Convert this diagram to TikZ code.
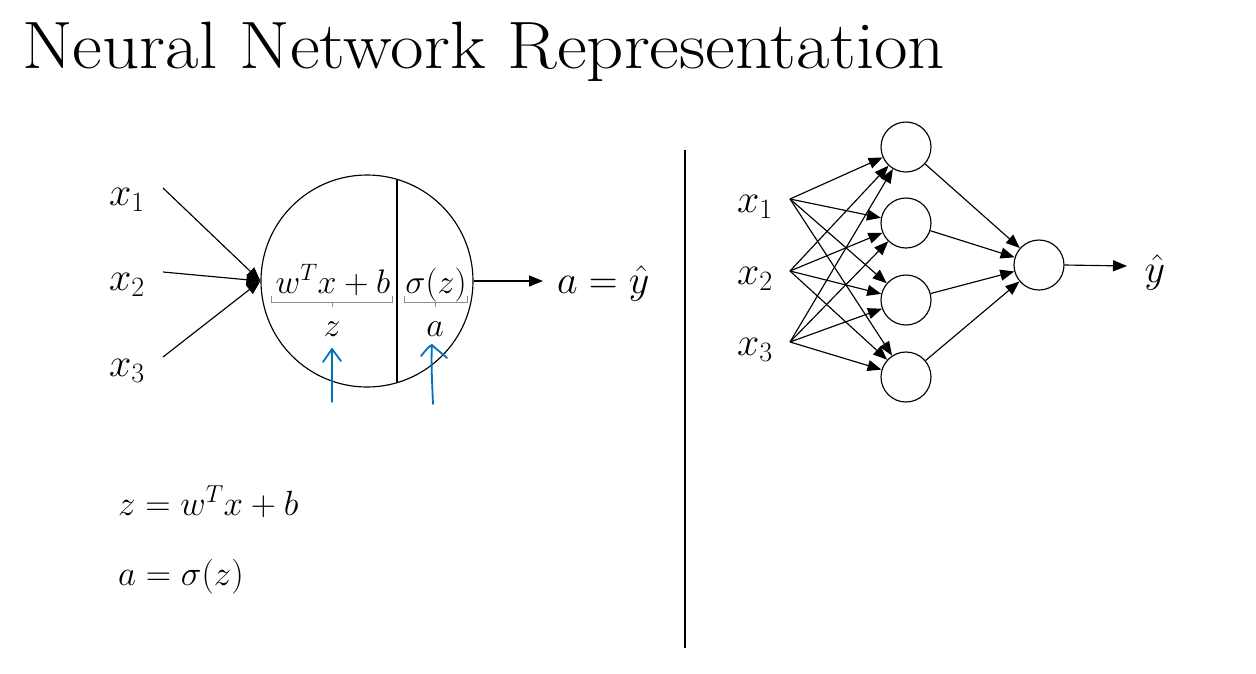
\RequirePackage{fix-cm}
\documentclass[tikz,border=0pt]{standalone}
\usetikzlibrary{arrows.meta}
\definecolor{inkblue}{RGB}{0,112,192}
\definecolor{bracegray}{RGB}{140,140,140}
\begin{document}
\begin{tikzpicture}[x=1pt,y=-1pt,
  conn/.style={line width=1.15pt,-{Triangle[length=14pt,width=11pt]}},
  neuron/.style={circle,draw,line width=1.15pt,minimum size=50pt,inner sep=0pt},
  lbl/.style={font=\fontsize{40}{48}\selectfont,inner sep=0pt,anchor=base},
  inner/.style={font=\fontsize{34}{40}\selectfont,inner sep=0pt,anchor=base},
  eqn/.style={font=\fontsize{35}{42}\selectfont,inner sep=0pt,anchor=base west},
  bracel/.style={bracegray,line width=0.8pt},
  blueink/.style={inkblue,line width=1.8pt,line cap=round,line join=round}]
\useasboundingbox (0,0) rectangle (1256,673);

% title
\node[anchor=base west,font=\fontsize{67}{72}\selectfont,inner sep=0pt] (title) at (22,68) {\scalebox{1.09}[1]{Neural Network Representation}};

% ---------- left: single neuron ----------
\node[circle,draw,line width=1.15pt,minimum size=212pt,inner sep=0pt] (big) at (367,281) {};
\coordinate (vt) at (397,180);
\coordinate (vb) at (397,382);
\draw[line width=1.15pt] (vt) -- (vb);

\node[lbl] (lx1) at (127,205) {$x_1$};
\node[lbl] (lx2) at (127,290) {$x_2$};
\node[lbl] (lx3) at (127,376) {$x_3$};
\coordinate (s1) at (163,188);
\coordinate (s2) at (163,272);
\coordinate (s3) at (163,357);
\draw[conn] (s1) -- (big.west);
\draw[conn] (s2) -- (big.west);
\draw[conn] (s3) -- (big.west);

\node[inner] (wx) at (333,293) {$w^Tx+b$};
\node[inner] (sz) at (436,293) {$\sigma(z)$};
\draw[bracel] (271,296) -- (271,302) -- (392,302) -- (392,296);
\draw[bracel] (332,302) -- (332,307);
\draw[bracel] (404,296) -- (404,302) -- (467,302) -- (467,296);
\draw[bracel] (435,302) -- (435,307);
\node[inner] (zl) at (332,336) {$z$};
\node[inner] (al) at (435,336) {$a$};

% blue hand-drawn arrows
\coordinate (b1s) at (332,402);
\coordinate (b1e) at (332,349);
\draw[blueink] (b1s) -- (b1e);
\draw[blueink] (323,362) -- (b1e) -- (341,361);
\coordinate (b2s) at (433,404);
\coordinate (b2e) at (432,345);
\draw[blueink] (b2s) .. controls (432,380) and (431,360) .. (b2e);
\draw[blueink] (421,356) .. controls (426,350) and (429,346) .. (b2e) .. controls (437,350) and (443,354) .. (447,358);

\coordinate (oe) at (543,281);
\draw[conn] (big.east) -- (oe);
\node[lbl,anchor=base west] (ay) at (557,293) {$a=\hat{y}$};

\node[eqn] (eq1) at (118,515) {$z=w^Tx+b$};
\node[eqn] (eq2) at (118,585) {$a=\sigma(z)$};

% divider
\coordinate (dt) at (685,150);
\coordinate (db) at (685,648);
\draw[line width=1.15pt] (dt) -- (db);

% ---------- right: network ----------
\node[lbl] (rx1) at (755,212) {$x_1$};
\node[lbl] (rx2) at (755,284) {$x_2$};
\node[lbl] (rx3) at (755,355) {$x_3$};
\coordinate (i1) at (790,199);
\coordinate (i2) at (790,271);
\coordinate (i3) at (790,342);

\node[neuron] (h1) at (906,147) {};
\node[neuron] (h2) at (906,223) {};
\node[neuron] (h3) at (906,300) {};
\node[neuron] (h4) at (906,377) {};
\node[neuron] (o) at (1039,265) {};

\foreach \i in {i1,i2,i3}
  \foreach \h in {h1,h2,h3,h4}
    \draw[conn] (\i) -- (\h);
\foreach \h in {h1,h2,h3,h4}
  \draw[conn] (\h) -- (o);

\coordinate (ye) at (1127,266);
\draw[conn] (o.east) -- (ye);
\node[lbl] (yh) at (1155,282) {$\hat{y}$};
\end{tikzpicture}
\end{document}
